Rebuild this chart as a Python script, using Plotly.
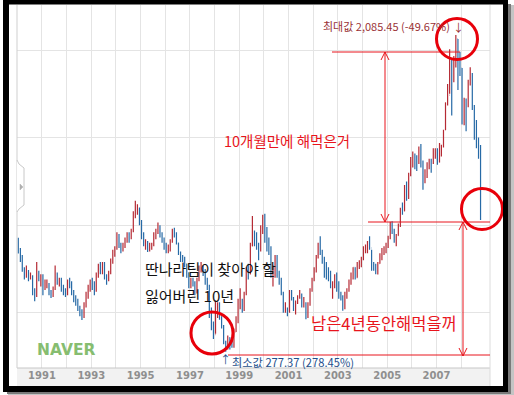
import pandas as pd
import plotly.graph_objects as go

# ---------------- data (KOSPI monthly bars, Jan 1990 - Oct 2008) ----------------
first_open = 909.72
highs = [
    928, 870, 830, 760, 770, 745, 730, 715, 640, 790, 740, 720,          # 1990
    720, 690, 690, 670, 630, 650, 770, 730, 700, 700, 660, 640,          # 1991
    690, 700, 680, 630, 600, 580, 540, 520, 560, 620, 660, 690,          # 1992
    700, 680, 730, 780, 790, 790, 790, 720, 740, 810, 860, 880,          # 1993
    960, 950, 900, 900, 930, 960, 960, 980, 1080, 1139, 1120, 1100,      # 1994
    1030, 960, 920, 910, 900, 900, 960, 980, 1016, 1000, 960, 930,       # 1995
    900, 890, 920, 980, 986, 960, 900, 850, 830, 820, 780, 730,          # 1996
    700, 700, 680, 700, 770, 790, 770, 750, 700, 660, 530, 450,          # 1997
    570, 560, 560, 480, 430, 340, 370, 360, 340, 410, 480, 580,          # 1998
    640, 580, 620, 760, 780, 900, 1052, 970, 960, 900, 1000, 1060,       # 1999
    1066, 990, 930, 880, 770, 830, 830, 740, 700, 620, 560, 530,         # 2000
    630, 630, 590, 570, 600, 630, 610, 590, 560, 560, 640, 700,          # 2001
    760, 830, 900, 937, 860, 820, 790, 760, 740, 680, 720, 730,          # 2002
    680, 620, 600, 620, 640, 690, 730, 760, 760, 790, 800, 820,          # 2003
    880, 890, 910, 937, 860, 790, 780, 790, 840, 870, 880, 900,          # 2004
    940, 1020, 1022, 980, 950, 1010, 1100, 1130, 1230, 1250, 1300, 1390, # 2005
    1421, 1410, 1400, 1450, 1464, 1370, 1320, 1360, 1380, 1380, 1440, 1440,  # 2006
    1440, 1470, 1460, 1545, 1700, 1806, 2004, 1955, 1966, 2085.45, 2063, 1990,  # 2007
    1897, 1728, 1723, 1830, 1901, 1869, 1686, 1600, 1500, 1458,          # 2008
]
lows = [
    838, 790, 735, 690, 700, 680, 690, 600, 566, 590, 680, 650,
    600, 630, 640, 600, 585, 590, 630, 660, 650, 620, 600, 590,
    600, 640, 600, 560, 540, 510, 480, 459, 470, 530, 580, 620,
    630, 600, 620, 700, 720, 720, 690, 660, 680, 720, 780, 820,
    860, 870, 840, 850, 870, 900, 900, 920, 960, 1040, 1060, 1000,
    920, 880, 860, 847, 850, 860, 880, 920, 950, 930, 900, 860,
    840, 840, 850, 900, 930, 890, 830, 790, 790, 760, 700, 640,
    640, 650, 600, 610, 680, 730, 710, 660, 630, 470, 400, 350,
    380, 470, 460, 410, 320, 277.37, 290, 290, 300, 300, 390, 440,
    520, 500, 510, 600, 690, 720, 880, 880, 860, 800, 850, 950,
    900, 850, 830, 700, 650, 700, 700, 660, 600, 500, 500, 480,
    500, 570, 510, 490, 550, 580, 530, 530, 463, 470, 540, 620,
    680, 730, 810, 830, 780, 700, 690, 680, 640, 580, 640, 620,
    580, 570, 512, 520, 580, 620, 660, 690, 690, 700, 750, 760,
    800, 840, 840, 860, 740, 740, 720, 719, 780, 800, 830, 840,
    870, 920, 950, 900, 880, 940, 990, 1060, 1080, 1140, 1150, 1280,
    1330, 1320, 1310, 1350, 1330, 1203, 1240, 1270, 1320, 1300, 1350, 1380,
    1345, 1358, 1392, 1443, 1543, 1683, 1750, 1626, 1816, 1900, 1772, 1852,
    1575, 1570, 1537, 1674, 1797, 1658, 1488, 1440, 1380, 1030,
]
closes = [
    845, 806, 747, 713, 730, 698, 706, 612, 599, 714, 692, 696,
    636, 660, 667, 611, 595, 640, 715, 676, 690, 645, 625, 611,
    670, 665, 620, 570, 555, 520, 500, 480, 545, 590, 640, 678,
    660, 640, 720, 760, 740, 770, 710, 690, 730, 790, 840, 866,
    940, 890, 870, 880, 920, 940, 930, 970, 1060, 1090, 1100, 1027,
    940, 890, 900, 870, 880, 890, 950, 960, 990, 950, 920, 883,
    860, 870, 910, 970, 950, 900, 840, 810, 810, 780, 730, 651,
    677, 667, 623, 690, 750, 760, 730, 690, 650, 500, 410, 376,
    506, 520, 481, 420, 330, 297, 358, 310, 310, 390, 450, 562,
    570, 520, 610, 750, 720, 880, 950, 940, 880, 860, 980, 1028,
    940, 870, 860, 720, 730, 820, 710, 690, 610, 510, 520, 505,
    620, 580, 525, 560, 590, 595, 540, 545, 480, 550, 630, 694,
    750, 820, 880, 845, 800, 740, 720, 720, 650, 670, 700, 628,
    590, 575, 535, 600, 630, 670, 700, 760, 700, 780, 790, 811,
    850, 880, 880, 870, 770, 760, 735, 780, 835, 845, 870, 896,
    930, 1010, 965, 910, 940, 1000, 1090, 1080, 1220, 1160, 1290, 1379,
    1399, 1371, 1359, 1419, 1364, 1295, 1297, 1352, 1371, 1364, 1432, 1434,
    1360, 1418, 1453, 1542, 1700, 1743, 1933, 1873, 1946, 2064, 1906, 1897,
    1625, 1712, 1704, 1825, 1852, 1675, 1595, 1474, 1448, 1049,
]
opens = [first_open] + closes[:-1]
months = pd.date_range("1990-01-01", periods=len(closes), freq="MS") + pd.Timedelta(days=14)

year_ticks = [f"{y}-01-01" for y in range(1991, 2009)]
year_text = [str(y) if y % 2 == 1 else "" for y in range(1991, 2009)]
grid_levels = [500, 1000, 1500, 2000]

max_label = "최대값 2,085.45 (-49.67%)"
min_label = "최소값 277.37 (278.45%)"
note_top = "10개월만에 해먹은거"
note_mid1 = "딴나라팀이 찾아야 할"
note_mid2 = "잃어버린 10년"
note_bottom = "남은4년동안해먹을꺼"

# ---------------- layout helpers (pixel -> paper) ----------------
W, H = 514, 395
L, R, T, B = 17, 490, 5, 368
def X(px):
    return (px - L) / (R - L)
def Y(py):
    return (B - py) / (B - T)

fig = go.Figure()
fig.add_trace(go.Ohlc(
    x=months, open=opens, high=highs, low=lows, close=closes,
    increasing=dict(line=dict(color="#b52a34", width=1.2)),
    decreasing=dict(line=dict(color="#276aa6", width=1.2)),
    tickwidth=0.2, hoverinfo="skip",
))

shapes = []
def rect(x0, y0, x1, y1, color, layer="above"):
    shapes.append(dict(type="rect", xref="paper", yref="paper",
                       x0=X(x0), x1=X(x1), y0=Y(y0), y1=Y(y1),
                       line=dict(width=0), fillcolor=color, layer=layer))
def seg(x0, y0, x1, y1, color, width=1):
    shapes.append(dict(type="line", xref="paper", yref="paper",
                       x0=X(x0), x1=X(x1), y0=Y(y0), y1=Y(y1),
                       line=dict(color=color, width=width)))
def circle(cx, cy, r):
    shapes.append(dict(type="circle", xref="paper", yref="paper",
                       x0=X(cx - r), x1=X(cx + r), y0=Y(cy + r), y1=Y(cy - r),
                       line=dict(color="#e8000a", width=3)))
def path(pts, color, width=1, fill=None, closed=False):
    d = "M " + " L ".join(f"{X(a):.5f},{Y(b):.5f}" for a, b in pts)
    if closed:
        d += " Z"
    s = dict(type="path", xref="paper", yref="paper", path=d,
             line=dict(color=color, width=width))
    if fill:
        s["fillcolor"] = fill
    shapes.append(s)

# axis band
rect(L, B, R, 386, "#f2f2f2", layer="below")
seg(L, B, R, B, "#c6c6c6")
seg(L, T, L, B, "#cfcfcf")
seg(R, T, R, 386, "#dcdcdc")
# left tab
path([(17, 160), (19, 164), (24, 168), (24, 205), (19, 209), (17, 212)], "#c8c8c8", 1, fill="white")
path([(20, 184), (23, 187), (20, 190)], "#b0b0b0", 0.5, fill="#b0b0b0", closed=True)

# red hand-drawn lines
red = "#e8141c"
seg(332, 52, 460, 52, red)
seg(368, 222, 490, 222, red)
seg(228, 355, 490, 355, red)
seg(385, 52, 385, 222, red)
seg(463, 222, 463, 356, red)
for (ax, ay, d) in [(385, 52, 1), (385, 222, -1), (463, 222, 1), (463, 356, -1)]:
    path([(ax - 4, ay + 8 * d), (ax, ay), (ax + 4, ay + 8 * d)], red, 1)
circle(457, 39, 20.5)
circle(482, 209, 20.5)
circle(212, 333, 21)

# frame and shadow
rect(3, 0, 508, 4.5, "#000000")
rect(3, 0, 9, 392, "#000000")
rect(503, 0, 508, 392, "#000000")
rect(3, 386, 508, 392, "#000000")
rect(508, 4, 511, 395, "#7a7a7a")
rect(511, 5, 514, 395, "#c4c4c4")
rect(7, 392, 511, 394, "#7a7a7a")
rect(8, 394, 514, 395, "#c4c4c4")

kr = "Noto Sans CJK KR"
ann = []
def text(t, px, py, size, color, anchor="left", weight="normal", family=kr):
    ann.append(dict(text=t, x=X(px), y=Y(py), xref="paper", yref="paper",
                    xanchor=anchor, yanchor="middle", showarrow=False,
                    font=dict(family=family, size=size, color=color, weight=weight)))

text(max_label, 321, 26, 11, "#9a3236")
text("↓", 458, 27, 11, "#9a3236", anchor="center")
text(min_label, 230, 362, 11.2, "#244f8c")
text("↑", 225, 359, 11, "#244f8c", anchor="center")
text(note_top, 222, 140, 14.5, "#e8141c")
text(note_mid1, 143, 268, 15, "#111111")
text(note_mid2, 143, 295, 15, "#111111")
text(note_bottom, 309, 323, 16.5, "#e8141c")
text("NAVER", 35, 350, 15.5, "#86bd70", weight="bold", family="DejaVu Sans")

fig.update_layout(
    width=W, height=H,
    margin=dict(l=L, r=W - R, t=T, b=H - B),
    paper_bgcolor="white", plot_bgcolor="white",
    showlegend=False, hovermode=False,
    shapes=shapes, annotations=ann,
    xaxis=dict(type="date", range=["1989-12-27", "2009-03-04"],
               rangeslider=dict(visible=False),
               tickvals=year_ticks, ticktext=year_text,
               showgrid=True, gridcolor="#e4e4e4", gridwidth=1,
               ticks="", showline=False, zeroline=False,
               tickfont=dict(family="DejaVu Sans", size=10, color="#8f8f8f", weight="bold")),
    yaxis=dict(range=[185, 2257], tickvals=grid_levels, showticklabels=False,
               showgrid=True, gridcolor="#e4e4e4", gridwidth=1,
               zeroline=False, ticks="", fixedrange=True),
)

fig.write_html("out.html", config={"displayModeBar": False},
               post_script="document.body.style.margin='0';document.body.style.overflow='hidden';")
